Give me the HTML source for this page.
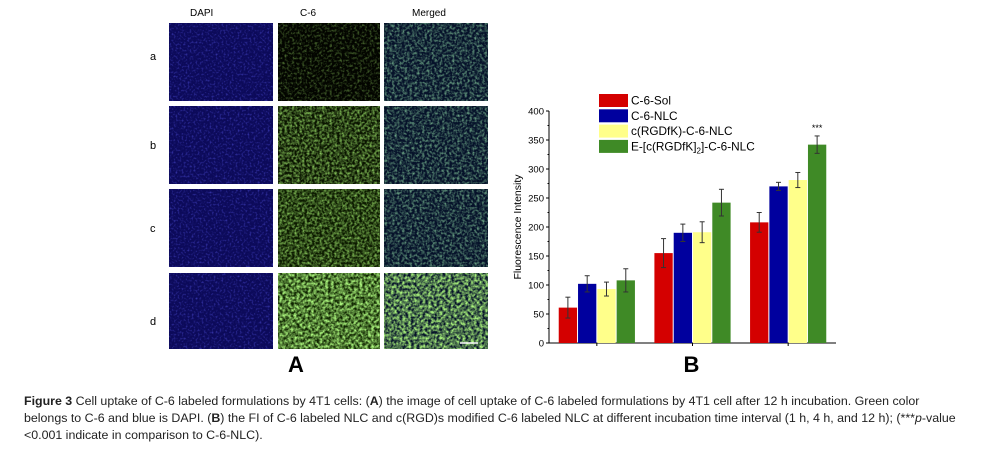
<!DOCTYPE html>
<html><head><meta charset="utf-8"><style>
body{margin:0;width:985px;height:463px;background:#fff;position:relative;overflow:hidden;font-family:"Liberation Sans",sans-serif}
.abs{position:absolute}
.cap{position:absolute;left:24px;font-size:12.4px;color:#222;white-space:nowrap;letter-spacing:0px}
</style></head><body>
<svg class="abs" style="left:0;top:0" width="985" height="463">
<defs>
<filter id="nb" x="0" y="0" width="1" height="1"><feTurbulence type="fractalNoise" baseFrequency="0.5" numOctaves="2" seed="3"/><feColorMatrix values="0 0 0 0 0.1  0 0 0 0 0.1  0 0 0 0 0.85  0 0 0 1.4 -0.7"/></filter>
<filter id="ng1" x="0" y="0" width="1" height="1"><feTurbulence type="fractalNoise" baseFrequency="0.4" numOctaves="2" seed="7"/><feColorMatrix values="0 0 0 0 0.25  0 0 0 0 0.55  0 0 0 0 0.1  0 0 0 1.3 -0.6"/></filter>
<filter id="ng2" x="0" y="0" width="1" height="1"><feTurbulence type="fractalNoise" baseFrequency="0.4" numOctaves="2" seed="11"/><feColorMatrix values="0 0 0 0 0.35  0 0 0 0 0.8  0 0 0 0 0.15  0 0 0 1.6 -0.55"/></filter>
<filter id="ng3" x="0" y="0" width="1" height="1"><feTurbulence type="fractalNoise" baseFrequency="0.35" numOctaves="2" seed="5"/><feColorMatrix values="0 0 0 0 0.4  0 0 0 0 0.9  0 0 0 0 0.2  0 0 0 2 -0.55"/></filter>
<filter id="nm" x="0" y="0" width="1" height="1"><feTurbulence type="fractalNoise" baseFrequency="0.4" numOctaves="2" seed="9"/><feColorMatrix values="0 0 0 0 0.3  0 0 0 0 0.75  0 0 0 0 0.4  0 0 0 1.5 -0.6"/></filter>
</defs>
<g id="imgs"></g>
<text x="190" y="16" font-size="10">DAPI</text>
<text x="300" y="16" font-size="10">C-6</text>
<text x="412" y="16" font-size="10">Merged</text>
<text x="150" y="60" font-size="11">a</text>
<text x="150" y="149" font-size="11">b</text>
<text x="150" y="232" font-size="11">c</text>
<text x="150" y="325" font-size="11">d</text>
<text x="288" y="372" font-size="22" font-weight="bold">A</text>
<line x1="460" y1="343" x2="478" y2="343" stroke="#fff" stroke-width="1.5"/>
</svg>
<svg class="abs" style="left:0;top:0" width="985" height="463" id="chart"></svg>
<div class="cap" style="top:394px"><b>Figure 3</b> Cell uptake of C-6 labeled formulations by 4T1 cells: (<b>A</b>) the image of cell uptake of C-6 labeled formulations by 4T1 cell after 12 h incubation. Green color</div>
<div class="cap" style="top:411px">belongs to C-6 and blue is DAPI. (<b>B</b>) the FI of C-6 labeled NLC and c(RGD)s modified C-6 labeled NLC at different incubation time interval (1 h, 4 h, and 12 h); (***<i>p</i>-value</div>
<div class="cap" style="top:428px">&lt;0.001 indicate in comparison to C-6-NLC).</div>
<script>
const NS="http://www.w3.org/2000/svg";
function mk(p,t,a){const e=document.createElementNS(NS,t);for(const k in a)e.setAttribute(k,a[k]);p.appendChild(e);return e;}
const g=document.getElementById('imgs');
const cols=[[169,104],[278,102],[384,104]];
const rows=[[23,78],[106,78],[189,78],[273,76]];
const gf=['ng1','ng2','ng2','ng3'];
const gbg=['#030500','#0a1400','#0c1a00','#0f2400'];
rows.forEach((r,ri)=>{cols.forEach((c,ci)=>{
  const bg=ci==0?'#0c0a5a':(ci==1?gbg[ri]:'#06122a');
  const f=ci==0?'nb':(ci==1?gf[ri]:(ri==3?'ng3':'nm'));
  const r1=mk(g,'rect',{x:c[0],y:r[0],width:c[1],height:r[1],fill:bg});
  
  
  mk(g,'rect',{x:c[0],y:r[0],width:c[1],height:r[1],filter:'url(#'+f+')'});
});});

const groups=['1 h','4 h','12 h'];
const series=['C-6-Sol','C-6-NLC','c(RGDfK)-C-6-NLC','E-[c(RGDfK)2]-C-6-NLC'];
const colors=['#d40000','#00009e','#ffff8a','#3f8a26'];
const sol=[61,155,208];
const nlc=[102,190,270];
const rgd=[93,191,281];
const erg=[108,242,342];
const solErr=[18,25,17];
const nlcErr=[14,15,7];
const rgdErr=[12,18,13];
const ergErr=[20,23,15];
const yTicks=[0,50,100,150,200,250,300,350,400];
const vals=[sol,nlc,rgd,erg], errs=[solErr,nlcErr,rgdErr,ergErr];

const svg=document.getElementById('chart');
const x0=549,x1=836,yb=343,yt=111,ymax=400;
const y=v=>yb-(v/ymax)*(yb-yt);
const gw=(x1-x0)/3, bw=19.3;
const gx=i=>x0+gw*(i+0.5);
let ax=mk(svg,'line',{x1:x0,y1:yt,x2:x0,y2:yb,stroke:'#000','stroke-width':1});

let bx=mk(svg,'line',{x1:x0,y1:yb,x2:x1,y2:yb,stroke:'#000','stroke-width':1});

yTicks.forEach(t=>{
  mk(svg,'line',{x1:x0-3,y1:y(t),x2:x0,y2:y(t),stroke:'#000'});
  if(t<400)mk(svg,'line',{x1:x0-1.5,y1:y(t+25),x2:x0,y2:y(t+25),stroke:'#000'});
  const tl=mk(svg,'text',{x:x0-5,y:y(t)+3.5,'font-size':9.5,'text-anchor':'end'});tl.textContent=t;
  
});
for(let i=0;i<3;i++){mk(svg,'line',{x1:gx(i),y1:yb,x2:gx(i),y2:yb+3,stroke:'#000'});}
const yt2=mk(svg,'text',{x:0,y:0,'font-size':10.5,'text-anchor':'middle',transform:`translate(521,${(yb+yt)/2+0}) rotate(-90)`});
yt2.textContent='Fluorescence Intensity';

for(let gi=0;gi<3;gi++){
  for(let s=0;s<4;s++){
    const bx0=gx(gi)-2*bw+s*bw+0.5;
    const v=vals[s][gi], e=errs[s][gi];
    const b=mk(svg,'rect',{x:bx0,y:y(v),width:bw-1,height:yb-y(v),fill:colors[s]});
    
    
    const cx=bx0+(bw-1)/2;
    mk(svg,'line',{x1:cx,y1:y(v+e),x2:cx,y2:y(v-e),stroke:'#333','stroke-width':1});
    mk(svg,'line',{x1:cx-2.5,y1:y(v+e),x2:cx+2.5,y2:y(v+e),stroke:'#333'});
    mk(svg,'line',{x1:cx-2.5,y1:y(v-e),x2:cx+2.5,y2:y(v-e),stroke:'#333'});
  }
}
const st=mk(svg,'text',{x:gx(2)+1.5*bw,y:y(erg[2]+ergErr[2])-5,'font-size':9,'text-anchor':'middle'});st.textContent='***';

series.forEach((s,i)=>{
  const ly=94+i*15.3;
  const sw=mk(svg,'rect',{x:599,y:ly,width:29,height:13,fill:colors[i]});
  
  const t=mk(svg,'text',{x:631,y:ly+10.5,'font-size':11.8});
  if(i==3){t.innerHTML='E-[c(RGDfK]<tspan font-size="8" dy="3">2</tspan><tspan dy="-3">]-C-6-NLC</tspan>';}
  else t.textContent=s;
  
});
const bl=mk(svg,'text',{x:x0+(x1-x0)/2-9,y:372,'font-size':22,'font-weight':'bold'});bl.textContent='B';

</script>
</body></html>
